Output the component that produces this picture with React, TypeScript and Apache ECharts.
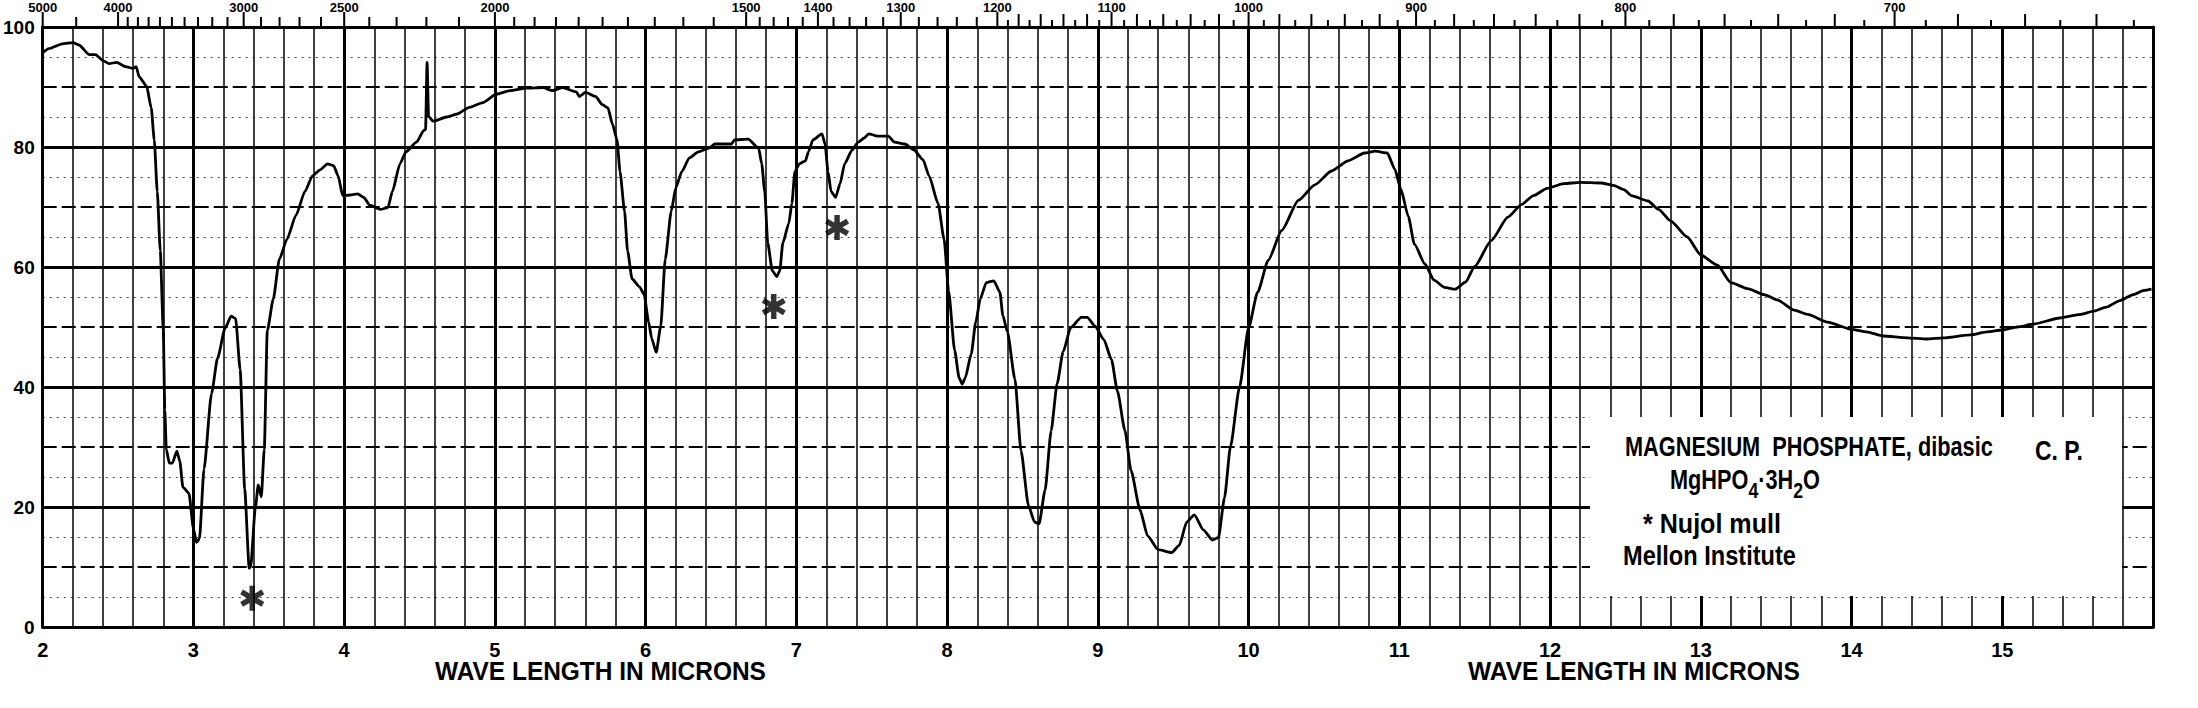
import React, { useEffect, useRef } from "react";
import * as echarts from "echarts";

// Spectrum: wavelength (microns) and percent transmittance
const wavelengthMicrons = [
  2.0, 2.04, 2.13, 2.2, 2.24, 2.31, 2.35, 2.4, 2.44, 2.49, 2.55, 2.6, 2.62, 2.64, 2.69, 2.72, 2.74, 2.76, 2.78, 2.8,
  2.81, 2.82, 2.84, 2.86, 2.89, 2.91, 2.93, 2.97, 3.0, 3.02, 3.04, 3.07, 3.12, 3.16, 3.21, 3.25, 3.28, 3.31, 3.34, 3.37,
  3.38, 3.41, 3.43, 3.45, 3.47, 3.49, 3.53, 3.57, 3.62, 3.68, 3.74, 3.79, 3.84, 3.89, 3.93, 3.96, 3.99, 4.04, 4.09, 4.13,
  4.17, 4.24, 4.29, 4.32, 4.37, 4.41, 4.48, 4.53, 4.54, 4.55, 4.56, 4.59, 4.68, 4.75, 4.83, 4.92, 5.01, 5.1, 5.21, 5.32,
  5.38, 5.45, 5.54, 5.56, 5.6, 5.67, 5.71, 5.75, 5.78, 5.81, 5.83, 5.86, 5.88, 5.91, 5.96, 5.99, 6.02, 6.04, 6.07, 6.1,
  6.13, 6.17, 6.2, 6.24, 6.29, 6.35, 6.42, 6.46, 6.53, 6.57, 6.59, 6.68, 6.75, 6.77, 6.79, 6.81, 6.84, 6.87, 6.89, 6.91,
  6.95, 6.97, 6.99, 7.02, 7.06, 7.08, 7.11, 7.17, 7.19, 7.21, 7.23, 7.26, 7.29, 7.32, 7.37, 7.41, 7.45, 7.48, 7.54, 7.61,
  7.65, 7.72, 7.78, 7.84, 7.88, 7.94, 7.98, 8.01, 8.05, 8.08, 8.1, 8.12, 8.16, 8.19, 8.22, 8.26, 8.31, 8.35, 8.37, 8.4,
  8.45, 8.49, 8.54, 8.58, 8.61, 8.65, 8.69, 8.73, 8.77, 8.82, 8.89, 8.93, 8.98, 9.04, 9.09, 9.13, 9.18, 9.22, 9.28, 9.33,
  9.4, 9.49, 9.54, 9.59, 9.64, 9.7, 9.76, 9.8, 9.84, 9.88, 9.94, 10.0, 10.06, 10.13, 10.22, 10.33, 10.44, 10.55, 10.66, 10.77,
  10.84, 10.92, 10.97, 11.01, 11.06, 11.1, 11.17, 11.23, 11.3, 11.37, 11.44, 11.5, 11.61, 11.72, 11.81, 11.89, 11.98, 12.09, 12.2, 12.34,
  12.42, 12.49, 12.54, 12.65, 12.72, 12.8, 12.91, 13.0, 13.11, 13.2, 13.31, 13.42, 13.51, 13.62, 13.71, 13.84, 14.0, 14.1, 14.21, 14.37,
  14.5, 14.61, 14.79, 14.9, 15.0, 15.1, 15.21, 15.38, 15.52, 15.6, 15.69, 15.78, 15.87, 15.94, 15.99,
];
const transmittance = [
  95.7, 96.4, 97.2, 97.4, 97.0, 95.4, 95.4, 94.4, 93.9, 94.1, 93.4, 93.1, 93.4, 91.7, 90.1, 86.5, 81.2, 72.6, 62.7, 49.4,
  36.2, 29.6, 27.3, 27.3, 29.3, 27.6, 23.3, 22.3, 16.4, 14.1, 14.7, 26.3, 38.9, 44.8, 49.8, 51.8, 51.4, 42.9, 23.0, 9.8,
  10.1, 19.7, 23.7, 21.7, 29.6, 49.4, 54.7, 61.3, 64.6, 68.6, 72.6, 75.2, 76.2, 77.2, 76.9, 75.2, 71.9, 72.0, 72.2, 71.6,
  70.3, 69.6, 69.9, 72.6, 77.2, 79.2, 80.8, 82.8, 82.9, 94.1, 85.1, 84.3, 85.0, 85.5, 86.6, 87.4, 88.8, 89.4, 89.8, 89.9,
  89.4, 89.9, 89.2, 88.4, 89.1, 88.4, 87.1, 86.5, 83.8, 81.2, 75.9, 69.3, 62.7, 58.0, 56.7, 55.4, 50.8, 48.1, 45.8, 50.1,
  61.3, 69.3, 73.2, 75.9, 78.2, 79.2, 79.8, 80.5, 80.5, 80.5, 81.2, 81.3, 79.8, 77.2, 72.6, 64.0, 59.4, 58.4, 59.4, 64.0,
  67.3, 70.6, 75.9, 77.2, 77.7, 79.2, 81.2, 82.2, 80.5, 75.9, 72.6, 71.6, 73.9, 77.2, 79.5, 80.8, 81.5, 82.2, 81.8, 81.8,
  80.8, 80.5, 79.5, 77.9, 75.2, 70.6, 64.6, 56.0, 46.1, 41.5, 40.5, 41.5, 45.5, 50.8, 54.7, 57.4, 57.7, 55.8, 51.9, 49.2,
  41.3, 29.4, 20.2, 17.5, 17.2, 22.8, 32.7, 40.6, 45.9, 49.9, 51.6, 51.6, 50.2, 47.9, 44.6, 39.3, 32.7, 26.1, 19.5, 15.2,
  12.9, 12.4, 13.6, 17.5, 18.7, 16.2, 14.5, 14.9, 21.5, 30.1, 40.0, 49.9, 55.8, 61.1, 66.1, 71.1, 73.7, 76.0, 77.7, 79.0,
  79.3, 79.0, 76.3, 73.0, 68.4, 63.8, 60.5, 57.8, 56.6, 56.3, 57.5, 60.1, 64.4, 68.3, 70.4, 71.9, 73.1, 73.9, 74.1, 74.0,
  73.6, 72.9, 71.9, 71.0, 69.6, 67.7, 65.0, 62.0, 60.3, 57.4, 56.4, 55.4, 54.5, 52.8, 52.1, 50.8, 49.6, 49.2, 48.5, 48.2,
  48.0, 48.2, 48.7, 49.2, 49.5, 50.0, 50.5, 51.5, 52.1, 52.6, 53.3, 54.4, 55.4, 56.1, 56.3,
];

// Nujol mull bands marked with an asterisk
const nujolMarkMicrons = [3.39, 6.85, 7.27];
const nujolMarkTransmittance = [4.8, 53.4, 66.6];

// Top scale: wavenumbers (cm-1)
const wavenumberLabels = [5000, 4000, 3000, 2500, 2000, 1500, 1400, 1300, 1200, 1100, 1000, 900, 800, 700];
// [from, to, step] for the small top tick marks
const wavenumberTickRanges = [
  [5000, 4000, 500],
  [4000, 2000, 100],
  [2000, 1500, 50],
  [1500, 1200, 20],
  [1200, 620, 10],
];

const axisTitle = "WAVE LENGTH IN MICRONS";
const legendLines = {
  name: "MAGNESIUM  PHOSPHATE, dibasic",
  grade: "C. P.",
  formulaParts: ["MgHPO", "4", "·3H", "2", "O"],
  medium: "* Nujol mull",
  source: "Mellon Institute",
};

const FONT = '"Liberation Sans", Arial, sans-serif';

export default function App() {
  const ref = useRef<HTMLDivElement>(null);

  useEffect(() => {
    if (!ref.current) return;
    const chart = echarts.init(ref.current, undefined, { renderer: "svg" });

    const canvas = document.createElement("canvas");
    const ctx = canvas.getContext("2d")!;
    const measure = (text: string, size: number) => {
      ctx.font = `bold ${size}px ${FONT}`;
      return ctx.measureText(text).width;
    };
    const fitted = (text: string, left: number, cy: number, width: number, size: number) => ({
      type: "text",
      x: left,
      y: cy,
      scaleX: width / measure(text, size),
      z: 20,
      silent: true,
      style: {
        text,
        fill: "#000",
        font: `bold ${size}px ${FONT}`,
        align: "left",
        textAlign: "left",
        verticalAlign: "middle",
        textVerticalAlign: "middle",
      },
    });

    // top tick list
    const topTicks: number[] = [];
    wavenumberTickRanges.forEach(([hi, lo, step], i) => {
      const last = i === wavenumberTickRanges.length - 1;
      for (let w = hi; last ? w >= lo + 10 : w > lo; w -= step) topTicks.push(w);
    });
    const tickLen = (w: number) => {
      if (wavenumberLabels.includes(w)) return 15;
      if (w <= 1200) return w % 20 === 0 ? 13 : 7;
      return 10;
    };

    // formula with subscripts
    const mainSize = 27;
    const subSize = 22;
    let off = 0;
    const formulaChildren = legendLines.formulaParts.map((t, i) => {
      const sub = i === 1 || i === 3;
      const el = {
        type: "text",
        x: off,
        y: sub ? 10 : 0,
        z: 25,
        silent: true,
        style: {
          text: t,
          fill: "#000",
          font: `bold ${sub ? subSize : mainSize}px ${FONT}`,
          align: "left",
          textAlign: "left",
          verticalAlign: "middle",
          textVerticalAlign: "middle",
        },
      };
      off += measure(t, sub ? subSize : mainSize);
      return el;
    });

    const asteriskPath =
      "path://M-2.2,-10L2.2,-10L2.2,10L-2.2,10Z M7.56,-6.91L9.76,-3.09L-7.56,6.91L-9.76,3.09Z M-9.76,-3.09L-7.56,-6.91L9.76,3.09L7.56,6.91Z";

    const option: any = {
      animation: false,
      backgroundColor: "#fff",
      grid: { left: 42, right: 45, top: 27, bottom: 81, containLabel: false },
      xAxis: [
        {
          type: "value",
          position: "bottom",
          min: 2,
          max: 16,
          interval: 1,
          axisLine: { show: true, onZero: false, lineStyle: { color: "#000", width: 3 } },
          axisTick: { show: false },
          axisLabel: {
            formatter: (v: number) => (v === 16 ? "" : String(v)),
            fontWeight: "bold",
            fontSize: 20,
            fontFamily: FONT,
            color: "#000",
            margin: 13,
          },
          splitLine: { show: true, lineStyle: { color: "#000", width: 3 } },
          minorTick: { show: false, splitNumber: 5 },
          minorSplitLine: { show: true, lineStyle: { color: "#111", width: 1.6 } },
        },
        {
          type: "value",
          position: "top",
          min: 2,
          max: 16,
          axisLine: { show: true, onZero: false, lineStyle: { color: "#000", width: 3 } },
          axisTick: { show: false },
          axisLabel: { show: false },
          splitLine: { show: false },
        },
      ],
      yAxis: [
        {
          type: "value",
          position: "left",
          min: 0,
          max: 100,
          interval: 20,
          axisLine: { show: true, onZero: false, lineStyle: { color: "#000", width: 3 } },
          axisTick: { show: false },
          axisLabel: { fontWeight: "bold", fontSize: 19, fontFamily: FONT, color: "#000", margin: 8 },
          splitLine: { show: true, lineStyle: { color: "#000", width: 3 } },
        },
        {
          type: "value",
          position: "right",
          min: 0,
          max: 100,
          interval: 10,
          axisLine: { show: true, onZero: false, lineStyle: { color: "#000", width: 3 } },
          axisTick: { show: false },
          axisLabel: { show: false },
          splitLine: { show: true, lineStyle: { color: "#000", width: 1.8, type: [14, 5] } },
          minorTick: { show: false, splitNumber: 2 },
          minorSplitLine: { show: true, lineStyle: { color: "#444", width: 1.2, type: [2, 5] } },
        },
      ],
      series: [
        {
          type: "line",
          xAxisIndex: 0,
          yAxisIndex: 0,
          data: wavelengthMicrons.map((x, i) => [x, transmittance[i]]),
          showSymbol: false,
          symbol: "none",
          smooth: 0.2,
          smoothMonotone: "x",
          lineStyle: { color: "#000", width: 2.8 },
          z: 5,
          silent: true,
        },
        {
          type: "scatter",
          xAxisIndex: 0,
          yAxisIndex: 0,
          data: nujolMarkMicrons.map((x, i) => [x, nujolMarkTransmittance[i]]),
          symbol: asteriskPath,
          symbolSize: [24, 25],
          itemStyle: { color: "#000" },
          z: 6,
          silent: true,
        },
        {
          type: "custom",
          xAxisIndex: 1,
          yAxisIndex: 0,
          clip: false,
          silent: true,
          z: 6,
          data: topTicks.map((w) => [10000 / w, 100]),
          renderItem: (params: any, api: any) => {
            const w = topTicks[params.dataIndex];
            const p = api.coord([api.value(0), 100]);
            const len = tickLen(w);
            const children: any[] = [
              {
                type: "line",
                shape: { x1: p[0], y1: p[1], x2: p[0], y2: p[1] - len },
                style: { stroke: "#000", lineWidth: 2 },
              },
            ];
            if (wavenumberLabels.includes(w)) {
              children.push({
                type: "text",
                x: p[0],
                y: 1,
                style: {
                  text: String(w),
                  fill: "#000",
                  font: `bold 13px ${FONT}`,
                  align: "center",
                  textAlign: "center",
                  verticalAlign: "top",
                  textVerticalAlign: "top",
                },
              });
            }
            return { type: "group", children };
          },
        },
      ],
      graphic: [
        {
          type: "rect",
          z: 15,
          silent: true,
          shape: { x: 1590, y: 417, width: 532, height: 179 },
          style: { fill: "#fff" },
        },
        fitted(legendLines.name, 1625, 447, 368, 27),
        fitted(legendLines.grade, 2035, 450, 48, 27),
        {
          type: "group",
          x: 1670,
          y: 480,
          scaleX: 150 / off,
          z: 25,
          silent: true,
          children: formulaChildren,
        },
        fitted(legendLines.medium, 1643, 524, 138, 27),
        fitted(legendLines.source, 1623, 555, 173, 27),
        fitted(axisTitle, 435, 671, 331, 25),
        fitted(axisTitle, 1468, 671, 332, 25),
      ],
    };

    chart.setOption(option);
    return () => chart.dispose();
  }, []);

  return (
    <div
      ref={ref}
      style={{ position: "fixed", left: 0, top: 0, width: 2198, height: 708, background: "#fff" }}
    />
  );
}
